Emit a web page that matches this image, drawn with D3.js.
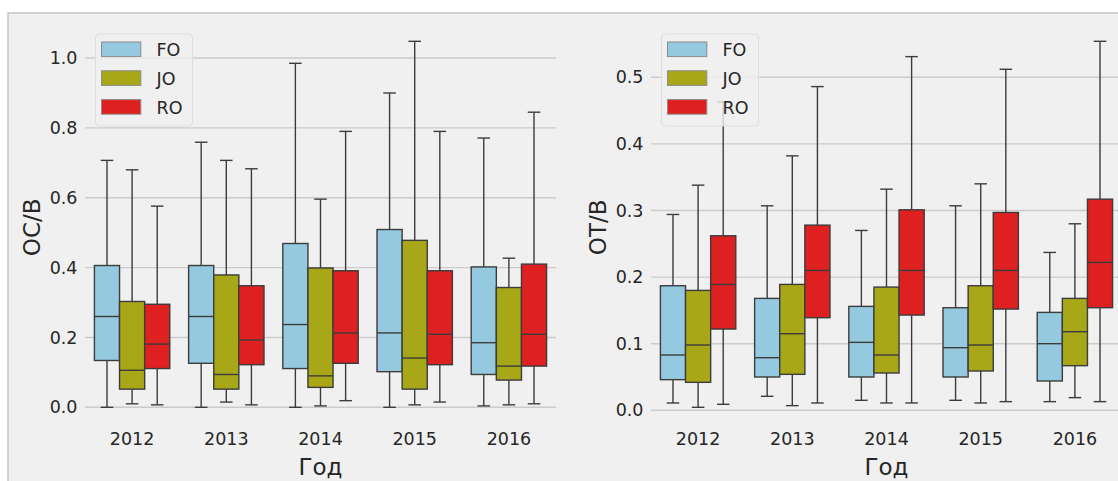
<!DOCTYPE html>
<html>
<head>
<meta charset="utf-8">
<script src="https://cdn.jsdelivr.net/npm/d3@7"></script>
<style>
  html, body { margin: 0; padding: 0; background: #ffffff; overflow: hidden; }
  svg { display: block; font-family: "DejaVu Sans", sans-serif; }
</style>
</head>
<body>
<svg id="chart" width="1118" height="481"></svg>
<script>
// data *****************************************************
const years = ["2012", "2013", "2014", "2015", "2016"]
const groups = ["FO", "JO", "RO"]
const groupColors = ["#94c9df", "#a7a718", "#df2020"]

// each row: [low whisker, q1, median, q3, high whisker]
const ocFO = [[0.000, 0.134, 0.260, 0.406, 0.707], [0.000, 0.126, 0.260, 0.406, 0.759], [0.000, 0.111, 0.237, 0.469, 0.985], [0.000, 0.102, 0.213, 0.509, 0.900], [0.004, 0.094, 0.185, 0.402, 0.771]]
const ocJO = [[0.010, 0.052, 0.106, 0.303, 0.680], [0.015, 0.052, 0.094, 0.379, 0.707], [0.004, 0.057, 0.090, 0.399, 0.596], [0.007, 0.052, 0.141, 0.478, 1.048], [0.007, 0.078, 0.118, 0.343, 0.427]]
const ocRO = [[0.007, 0.111, 0.181, 0.295, 0.576], [0.007, 0.122, 0.193, 0.348, 0.683], [0.019, 0.126, 0.213, 0.391, 0.790], [0.015, 0.122, 0.209, 0.391, 0.790], [0.010, 0.118, 0.209, 0.410, 0.845]]

const otFO = [[0.011, 0.046, 0.083, 0.187, 0.294], [0.021, 0.050, 0.079, 0.168, 0.307], [0.015, 0.050, 0.102, 0.156, 0.270], [0.015, 0.050, 0.094, 0.154, 0.307], [0.013, 0.044, 0.100, 0.147, 0.237]]
const otJO = [[0.0045, 0.042, 0.098, 0.180, 0.338], [0.007, 0.054, 0.115, 0.189, 0.382], [0.011, 0.056, 0.083, 0.185, 0.332], [0.011, 0.059, 0.098, 0.187, 0.340], [0.019, 0.067, 0.118, 0.168, 0.280]]
const otRO = [[0.009, 0.122, 0.189, 0.262, 0.463], [0.011, 0.139, 0.210, 0.278, 0.486], [0.011, 0.143, 0.210, 0.301, 0.531], [0.013, 0.152, 0.210, 0.297, 0.512], [0.013, 0.154, 0.222, 0.317, 0.554]]

const ocTicks = [0.0, 0.2, 0.4, 0.6, 0.8, 1.0]
const otTicks = [0.0, 0.1, 0.2, 0.3, 0.4, 0.5]

// canvas *******************************
const gridColor = "#cbcbcb"
const lineColor = "#3c3c3c"
const textColor = "#262626"
const axTop = 23
const axHeight = 402.6
const axWidth = 471

const svg = d3.select("#chart")

// figure background with its edge
svg.append("rect")
  .attr("x", 8)
  .attr("y", 13)
  .attr("width", 1200)
  .attr("height", 600)
  .attr("fill", "#f0f0f0")
  .attr("stroke", "#c4c4c4")
  .attr("stroke-width", 1.5)

function drawPanel(left, series, ticks, yLabel) {
  const chart = svg.append("g")
    .attr("transform", `translate(${left}, ${axTop})`)

  // matplotlib-like 5% margin around the whiskers
  const all = series.flat(2)
  const lo = d3.min(all), hi = d3.max(all)
  const pad = (hi - lo) * 0.05

  const yScale = d3.scaleLinear()
    .domain([lo - pad, hi + pad])
    .range([axHeight, 0])

  const xScale = d3.scaleBand()
    .domain(years)
    .range([0, axWidth])

  const hueScale = d3.scaleBand()
    .domain(groups)
    .range([xScale.bandwidth() * 0.1, xScale.bandwidth() * 0.9])

  // grid
  chart.append("g")
    .selectAll("line")
    .data(ticks)
    .join("line")
    .attr("x1", 0)
    .attr("x2", axWidth)
    .attr("y1", d => yScale(d))
    .attr("y2", d => yScale(d))
    .attr("stroke", gridColor)
    .attr("stroke-width", 1.4)

  // y axis
  const yAxis = chart.append("g")
    .call(d3.axisLeft(yScale).tickValues(ticks).tickSize(0).tickPadding(7.5).tickFormat(d3.format(".1f")))
  yAxis.select(".domain").remove()
  yAxis.selectAll("text")
    .attr("fill", textColor)
    .attr("font-size", "17.5px")
    .attr("font-family", "DejaVu Sans")

  // x axis
  const xAxis = chart.append("g")
    .attr("transform", `translate(0, ${axHeight})`)
    .call(d3.axisBottom(xScale).tickSize(0).tickPadding(7))
  xAxis.select(".domain").remove()
  xAxis.selectAll("text")
    .attr("fill", textColor)
    .attr("font-size", "17.5px")
    .attr("font-family", "DejaVu Sans")

  // labels
  chart.append("text")
    .attr("text-anchor", "middle")
    .attr("fill", textColor)
    .attr("font-size", "23px")
    .attr("x", axWidth / 2)
    .attr("y", 452)
    .text("Год")

  chart.append("text")
    .attr("text-anchor", "middle")
    .attr("fill", textColor)
    .attr("font-size", "23px")
    .attr("transform", `translate(-45, ${axHeight / 2 + 3}) rotate(-90)`)
    .text(yLabel)

  // boxes
  const bw = hueScale.bandwidth()
  series.forEach((rows, gi) => {
    const g = chart.append("g")
    const boxes = g.selectAll("g")
      .data(rows.map((r, i) => ({ year: years[i], stats: r })))
      .join("g")
      .attr("transform", d => `translate(${xScale(d.year) + hueScale(groups[gi])}, 0)`)

    // whiskers
    boxes.append("line")
      .attr("x1", bw / 2).attr("x2", bw / 2)
      .attr("y1", d => yScale(d.stats[0]))
      .attr("y2", d => yScale(d.stats[1]))
      .attr("stroke", lineColor).attr("stroke-width", 1.4)
    boxes.append("line")
      .attr("x1", bw / 2).attr("x2", bw / 2)
      .attr("y1", d => yScale(d.stats[3]))
      .attr("y2", d => yScale(d.stats[4]))
      .attr("stroke", lineColor).attr("stroke-width", 1.4)
    // caps
    boxes.selectAll(".cap")
      .data(d => [d.stats[0], d.stats[4]])
      .join("line")
      .classed("cap", true)
      .attr("x1", bw / 4).attr("x2", bw * 3 / 4)
      .attr("y1", d => yScale(d))
      .attr("y2", d => yScale(d))
      .attr("stroke", lineColor).attr("stroke-width", 1.4)
    // box
    boxes.append("rect")
      .attr("x", 0)
      .attr("width", bw)
      .attr("y", d => yScale(d.stats[3]))
      .attr("height", d => yScale(d.stats[1]) - yScale(d.stats[3]))
      .attr("fill", groupColors[gi])
      .attr("stroke", lineColor)
      .attr("stroke-width", 1.4)
    // median
    boxes.append("line")
      .attr("x1", 0).attr("x2", bw)
      .attr("y1", d => yScale(d.stats[2]))
      .attr("y2", d => yScale(d.stats[2]))
      .attr("stroke", lineColor).attr("stroke-width", 1.4)
  })

  // legend
  const legend = chart.append("g")
    .attr("transform", "translate(10.5, 11)")
  legend.append("rect")
    .attr("width", 97)
    .attr("height", 92)
    .attr("rx", 4)
    .attr("fill", "#f0f0f0")
    .attr("fill-opacity", 0.8)
    .attr("stroke", "#dedede")
    .attr("stroke-width", 1)
  const items = legend.selectAll(".item")
    .data(groups)
    .join("g")
    .classed("item", true)
    .attr("transform", (d, i) => `translate(0, ${8 + i * 28.8})`)
  items.append("rect")
    .attr("x", 6)
    .attr("width", 39.3)
    .attr("height", 14.6)
    .attr("fill", (d, i) => groupColors[i])
    .attr("stroke", "#8c8c8c")
    .attr("stroke-width", 1)
  items.append("text")
    .attr("x", 61)
    .attr("y", 14)
    .attr("fill", textColor)
    .attr("font-size", "17.5px")
    .text(d => d)
}

drawPanel(85, [ocFO, ocJO, ocRO], ocTicks, "ОС/В")
drawPanel(651, [otFO, otJO, otRO], otTicks, "ОТ/В")
</script>
</body>
</html>
